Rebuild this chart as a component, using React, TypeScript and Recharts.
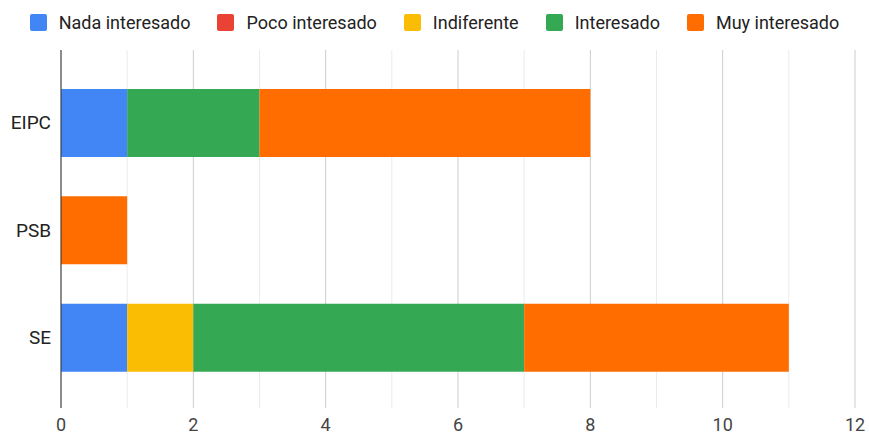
import { BarChart, Bar, XAxis, YAxis, CartesianGrid } from "recharts";

const categories = ["EIPC", "PSB", "SE"];
const nadaInteresado = [1, 0, 1];
const pocoInteresado = [0, 0, 0];
const indiferente = [0, 0, 1];
const interesado = [2, 0, 5];
const muyInteresado = [5, 1, 4];
const xTicks = [0, 1, 2, 3, 4, 5, 6, 7, 8, 9, 10, 11, 12];

const series = [
  { key: "nada", name: "Nada interesado", color: "#4285f4", values: nadaInteresado },
  { key: "poco", name: "Poco interesado", color: "#ea4335", values: pocoInteresado },
  { key: "indif", name: "Indiferente", color: "#fbbc04", values: indiferente },
  { key: "inter", name: "Interesado", color: "#34a853", values: interesado },
  { key: "muy", name: "Muy interesado", color: "#ff6d01", values: muyInteresado },
];

const data = categories.map((cat, i) => {
  const row: Record<string, string | number> = { cat };
  series.forEach((s) => (row[s.key] = s.values[i]));
  return row;
});

const FONT = "Roboto, 'Noto Sans', sans-serif";

// las líneas impares van más claras que las pares
const gridLine = (props: any) => (
  <line
    key={props.key}
    x1={props.x1}
    y1={props.y1}
    x2={props.x2}
    y2={props.y2}
    stroke={props.index % 2 === 1 ? "#ebebeb" : "#cccccc"}
    strokeWidth={1}
  />
);

export default function App() {
  return (
    <div style={{ position: "absolute", left: 0, top: 0, width: 869, height: 435, background: "#fff", fontFamily: FONT }}>
      <div
        style={{
          position: "absolute",
          top: 12,
          left: 0,
          width: 869,
          display: "flex",
          justifyContent: "center",
          fontSize: 18,
          color: "#222",
        }}
      >
        {series.map((s, i) => (
          <div key={s.key} style={{ display: "flex", alignItems: "center", marginLeft: i === 0 ? 0 : 27 }}>
            <span style={{ width: 17, height: 17, borderRadius: 2, background: s.color, marginRight: 12, display: "inline-block" }} />
            <span style={{ lineHeight: "21px" }}>{s.name}</span>
          </div>
        ))}
      </div>
      <BarChart
        width={869}
        height={435}
        data={data}
        layout="vertical"
        margin={{ top: 50, right: 14, bottom: 0, left: 0 }}
        style={{ position: "absolute", left: 0, top: 0 }}
      >
        <CartesianGrid horizontal={false} vertical={gridLine} />
        <XAxis
          type="number"
          domain={[0, 12]}
          ticks={xTicks}
          interval={0}
          tickFormatter={(v: number) => (v % 2 === 0 ? String(v) : "")}
          axisLine={false}
          tickLine={false}
          tickMargin={4}
          height={27}
          tick={{ fontSize: 18, fill: "#444", fontFamily: FONT }}
        />
        <YAxis
          type="category"
          dataKey="cat"
          width={61}
          padding={{ top: 19, bottom: 17 }}
          axisLine={{ stroke: "#333", strokeWidth: 1 }}
          tickLine={false}
          tickMargin={4}
          tick={{ fontSize: 19, fill: "#222", fontFamily: FONT }}
        />
        {series.map((s) => (
          <Bar
            key={s.key}
            dataKey={s.key}
            name={s.name}
            stackId="a"
            fill={s.color}
            barSize={68}
            isAnimationActive={false}
          />
        ))}
      </BarChart>
    </div>
  );
}
